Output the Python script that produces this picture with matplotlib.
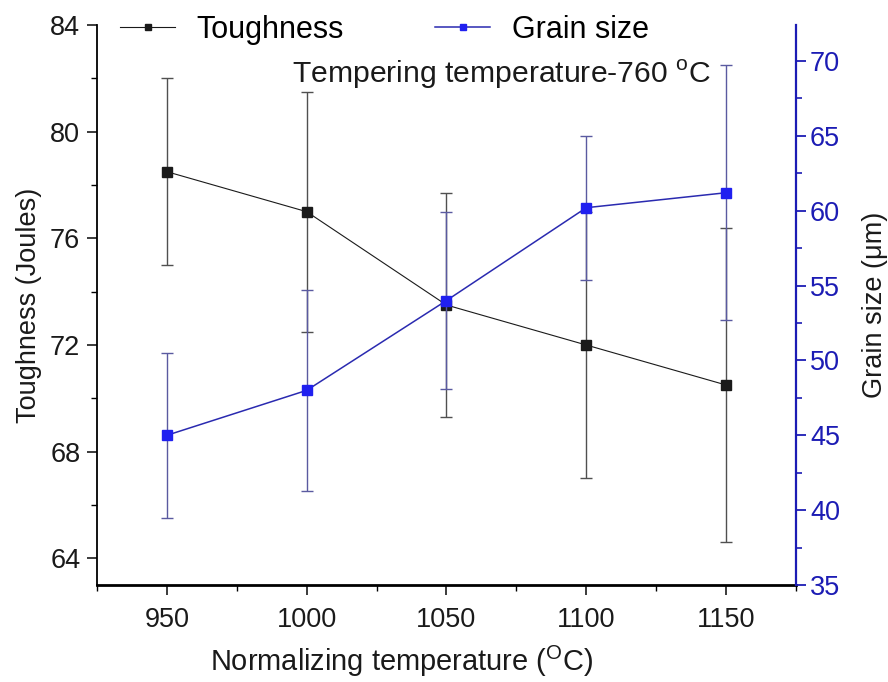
import numpy as np
import matplotlib
matplotlib.use("Agg")
import matplotlib.pyplot as plt
from matplotlib.ticker import MultipleLocator

plt.rcParams['font.family'] = ['Liberation Sans', 'DejaVu Sans']
plt.rcParams['mathtext.fontset'] = 'custom'
plt.rcParams['mathtext.rm'] = 'Liberation Sans'

# data
temps = [950, 1000, 1050, 1100, 1150]
toughness = [78.5, 77.0, 73.5, 72.0, 70.5]
tough_err = [3.5, 4.5, 4.2, 5.0, 5.9]
grain = [45.0, 48.0, 54.0, 60.2, 61.2]
grain_err = [5.5, 6.7, 5.9, 4.8, 8.5]

fs = 19.5
blue_axis = '#1c1cb4'

fig = plt.figure(figsize=(8.88, 6.82), dpi=100)
ax = fig.add_axes([0.1092, 0.1422, 0.7872, 0.8211])
ax2 = ax.twinx()

# toughness (left axis)
c1 = ax.errorbar(temps, toughness, yerr=tough_err, color='#1a1a1a', lw=0.8,
                 marker='s', ms=7, mfc='#1a1a1a', mec='#1a1a1a',
                 ecolor='#505050', elinewidth=1.0, capsize=4.5, capthick=1.0)
# grain size (right axis)
c2 = ax2.errorbar(temps, grain, yerr=grain_err, color='#2a2ab0', lw=1.1,
                  marker='s', ms=7, mfc='#2020f0', mec='#2020f0',
                  ecolor='#5a5aa0', elinewidth=1.0, capsize=4.5, capthick=1.0)

ax.set_xlim(925, 1175)
ax.set_ylim(63, 84)
ax2.set_ylim(35, 72.4)

ax.xaxis.set_major_locator(MultipleLocator(50))
ax.xaxis.set_minor_locator(MultipleLocator(25))
ax.yaxis.set_major_locator(MultipleLocator(4))
ax.yaxis.set_minor_locator(MultipleLocator(2))
ax2.yaxis.set_major_locator(MultipleLocator(5))
ax2.yaxis.set_minor_locator(MultipleLocator(2.5))

ax.spines['top'].set_visible(False)
ax2.spines['top'].set_visible(False)
ax.spines['right'].set_visible(False)
ax2.spines['left'].set_visible(False)
ax2.spines['bottom'].set_visible(False)
ax.spines['bottom'].set_linewidth(2.0)
ax.spines['left'].set_linewidth(1.3)
ax2.spines['right'].set_linewidth(1.6)
ax2.spines['right'].set_color(blue_axis)

ax.tick_params(axis='both', which='major', direction='out', length=7,
               width=1.2, labelsize=fs, colors='#1a1a1a')
ax.tick_params(axis='both', which='minor', direction='out', length=4,
               width=1.0)
ax.tick_params(axis='x', which='major', pad=9)
ax.tick_params(axis='y', which='major', pad=5)
ax2.tick_params(axis='y', which='major', direction='out', length=7,
                width=1.3, labelsize=fs, colors=blue_axis, pad=3)
ax2.tick_params(axis='y', which='minor', direction='out', length=4,
                width=1.2, colors=blue_axis)

ax.set_xlabel('Normalizing temperature ($^\\mathregular{O}$C)', fontsize=20.9,
              color='#1a1a1a', labelpad=7)
ax.xaxis.set_label_coords(0.436, -0.105)
ax.set_ylabel('Toughness (Joules)', fontsize=fs, color='#1a1a1a', labelpad=6)
ax2.set_ylabel('Grain size (μm)', fontsize=fs, color='#1a1a1a', labelpad=16)

ax.text(0.579, 0.911, 'Tempering temperature-760 $^\\mathregular{o}$C',
        transform=ax.transAxes, ha='center', va='center', fontsize=21.7,
        color='#1a1a1a')

handles = [c1.lines[0], c2.lines[0]]
leg = fig.legend(handles, ['Toughness', 'Grain size'], loc='center left',
                 bbox_to_anchor=(120 / 888, 1 - 30 / 682), ncol=2,
                 frameon=False, fontsize=22, numpoints=1, markerscale=0.7,
                 handlelength=1.8, handletextpad=0.7, columnspacing=3.0,
                 borderpad=0, borderaxespad=0)

fig.savefig('out.png', dpi=100)
